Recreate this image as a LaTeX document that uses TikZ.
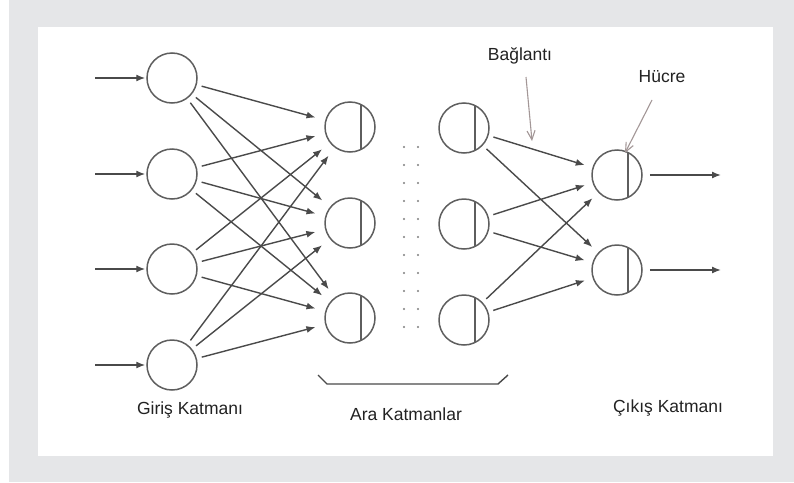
\documentclass[tikz,border=0pt]{standalone}
\usepackage{fontspec}
\setmainfont{Liberation Sans}
\usetikzlibrary{arrows.meta}
\definecolor{bggray}{HTML}{E5E6E8}
\definecolor{linegray}{HTML}{4A4A4A}
\definecolor{circgray}{HTML}{5E5E5E}
\definecolor{pointcol}{HTML}{A39797}
\definecolor{txtcol}{HTML}{222222}
\begin{document}
\begin{tikzpicture}[x=1pt,y=-1pt,
  neuron/.style={circle,draw=circgray,line width=1.5pt,minimum size=50pt,inner sep=0pt},
  cell/.style={neuron,path picture={\draw[circgray,line width=1.5pt]
      ([xshift=11pt]path picture bounding box.south) -- ([xshift=11pt]path picture bounding box.north);}},
  conn/.style={draw=linegray,line width=1.4pt,-{Latex[length=9pt,width=7pt]},shorten <=5pt,shorten >=10pt},
  conn2/.style={conn,shorten >=8pt},
  io/.style={draw=linegray,line width=1.4pt,-{Latex[length=9pt,width=7pt]}},
  pointer/.style={draw=pointcol,line width=1.1pt,-{Straight Barb[length=9pt,width=8pt]}},
  lbl/.style={font=\fontsize{17.5}{20}\selectfont,text=txtcol,inner sep=0pt},
  dot/.style={circle,fill=circgray!80,minimum size=2.2pt,inner sep=0pt}
]
\useasboundingbox (0,0) rectangle (794,482);
\fill[bggray] (9,0) rectangle (794,482);
\fill[white] (38,27) rectangle (773,456);

% input layer
\node[neuron] (i1) at (172,78) {};
\node[neuron] (i2) at (172,174) {};
\node[neuron] (i3) at (172,269) {};
\node[neuron] (i4) at (172,365) {};
% hidden layer 1
\node[cell] (h1) at (350,127) {};
\node[cell] (h2) at (350,223) {};
\node[cell] (h3) at (350,318) {};
% hidden layer 2
\node[cell] (g1) at (464,128) {};
\node[cell] (g2) at (464,224) {};
\node[cell] (g3) at (464,320) {};
% output layer
\node[cell] (o1) at (617,175) {};
\node[cell] (o2) at (617,270) {};

% input arrows
\foreach \n/\y in {1/78,2/174,3/269,4/365}{
  \coordinate (in\n) at (95,\y);
  \draw[io,shorten >=1pt] (in\n) -- (i\n);
}
% output arrows
\coordinate (out1) at (721,175);
\coordinate (out2) at (721,270);
\draw[io,shorten <=7pt] (o1) -- (out1);
\draw[io,shorten <=7pt] (o2) -- (out2);

% input -> hidden 1
\foreach \a in {1,2,3,4}{
  \foreach \b in {1,2,3}{
    \draw[conn] (i\a) -- (h\b);
  }
}
% hidden 2 -> output
\foreach \a in {1,2,3}{
  \foreach \b in {1,2}{
    \draw[conn2] (g\a) -- (o\b);
  }
}

% dots between hidden layers
\foreach \k in {0,...,10}{
  \node[dot] (dl\k) at (404,147+18*\k) {};
  \node[dot] (dr\k) at (418,147+18*\k) {};
}

% bracket
\coordinate (b1) at (318,375);
\coordinate (b2) at (327,384);
\coordinate (b3) at (498,384);
\coordinate (b4) at (508,375);
\draw[linegray,line width=1.4pt] (b1) -- (b2) -- (b3) -- (b4);

% labels
\node[lbl] (lin) at (190,410) {Giriş Katmanı};
\node[lbl] (lhid) at (406,414) {Ara Katmanlar};
\node[lbl] (lout) at (668,408) {Çıkış Katmanı};
\node[lbl] (lbag) at (520,56) {Bağlantı};
\node[lbl] (lhuc) at (662,77) {Hücre};

% pointers
\coordinate (p1s) at (526,77);
\coordinate (p1e) at (532,141);
\coordinate (p2s) at (652,100);
\coordinate (p2e) at (625,153);
\draw[pointer] (p1s) -- (p1e);
\draw[pointer] (p2s) -- (p2e);
\end{tikzpicture}
\end{document}
